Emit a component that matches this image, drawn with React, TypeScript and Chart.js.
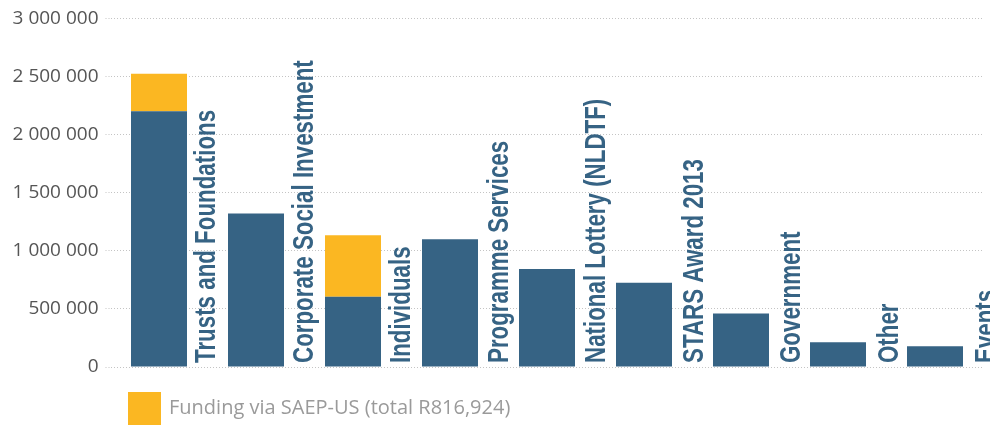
import React, { useEffect, useRef } from "react";
import { Chart, registerables } from "chart.js";

Chart.register(...registerables);

const categories = [
  "Trusts and Foundations",
  "Corporate Social Investment",
  "Individuals",
  "Programme Services",
  "National Lottery (NLDTF)",
  "STARS Award 2013",
  "Government",
  "Other",
  "Events",
];
const directFunding = [2200000, 1320000, 605000, 1100000, 844000, 724000, 460000, 213000, 179000];
const saepFunding = [323000, 0, 529000, 0, 0, 0, 0, 0, 0];
const seriesNames = ["Direct funding", "Funding via SAEP-US (total R816,924)"];
const legendSeries = [1];
const yMin = 0;
const yMax = 3000000;
const yStep = 500000;

const BLUE = "#366384";
const YELLOW = "#FBB722";

const formatSpaces = (v: number) =>
  String(Math.round(v)).replace(/\B(?=(\d{3})+(?!\d))/g, " ");

const barLabelPlugin = {
  id: "barLabels",
  afterDatasetsDraw(chart: any) {
    const { ctx, chartArea } = chart;
    const meta = chart.getDatasetMeta(0);
    ctx.save();
    ctx.fillStyle = BLUE;
    ctx.font = "bold 29px 'Liberation Sans', Arial, sans-serif";
    ctx.textAlign = "left";
    ctx.textBaseline = "alphabetic";
    meta.data.forEach((bar: any, i: number) => {
      const { x, width } = bar.getProps(["x", "width"], true);
      const bx = x + width / 2 + 28 + i * 0.5;
      const by = chartArea.bottom - 4;
      ctx.save();
      ctx.translate(bx, by);
      ctx.rotate(-Math.PI / 2);
      ctx.scale(0.77, 1);
      ctx.fillText(String(chart.data.labels[i]), 0, 0);
      ctx.restore();
    });
    ctx.restore();
  },
};

const legendPlugin = {
  id: "customLegend",
  afterDraw(chart: any) {
    const { ctx, chartArea } = chart;
    let x = chartArea.left + 17.5;
    const y = chartArea.bottom + 25;
    ctx.save();
    legendSeries.forEach((di) => {
      const ds = chart.data.datasets[di];
      ctx.fillStyle = ds.backgroundColor;
      ctx.fillRect(x, y, 33, 33);
      ctx.fillStyle = "#9a9a9a";
      ctx.font = "20px 'Open Sans', sans-serif";
      ctx.textAlign = "left";
      ctx.textBaseline = "middle";
      ctx.fillText(ds.label, x + 41, y + 16);
      x += 41 + ctx.measureText(ds.label).width + 30;
    });
    ctx.restore();
  },
};

export default function App() {
  const ref = useRef<HTMLCanvasElement>(null);

  useEffect(() => {
    if (!ref.current) return;
    const chart = new Chart(ref.current, {
      type: "bar",
      data: {
        labels: categories,
        datasets: [
          {
            label: seriesNames[0],
            data: directFunding,
            backgroundColor: BLUE,
            borderWidth: 0,
          },
          {
            label: seriesNames[1],
            data: saepFunding,
            backgroundColor: YELLOW,
            borderWidth: 0,
          },
        ],
      },
      options: {
        responsive: false,
        animation: false,
        events: [],
        layout: { padding: { top: 15, bottom: 58, left: 0, right: 6.5 } },
        datasets: {
          bar: { categoryPercentage: 1, barPercentage: 56 / 97 },
        },
        plugins: {
          legend: { display: false },
          tooltip: { enabled: false },
          title: { display: false },
        },
        scales: {
          x: {
            stacked: true,
            display: false,
          },
          y: {
            stacked: true,
            min: yMin,
            max: yMax,
            afterFit: (scale: any) => {
              scale.width = 110.5;
            },
            ticks: {
              stepSize: yStep,
              padding: 7,
              color: "#555555",
              font: { family: "'Open Sans', sans-serif", size: 19 },
              callback: (v: any) => formatSpaces(Number(v)),
            },
            grid: {
              color: "#c4c4c4",
              lineWidth: 1,
              drawTicks: true,
              tickLength: 5,
              tickColor: "#c4c4c4",
              tickBorderDash: [1, 2],
            },
            border: { display: false, dash: [1, 2] },
          },
        },
      },
      plugins: [barLabelPlugin, legendPlugin],
    });
    return () => chart.destroy();
  }, []);

  return (
    <div style={{ position: "absolute", left: 0, top: 0, width: 990, height: 425, overflow: "hidden", background: "#fff" }}>
      <canvas ref={ref} width={990} height={425} />
    </div>
  );
}
